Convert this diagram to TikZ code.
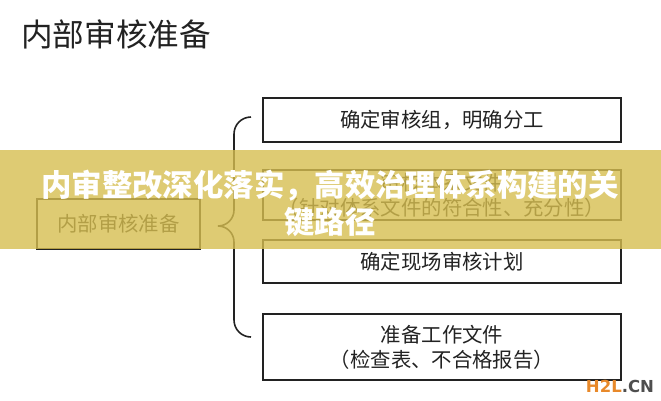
\documentclass[tikz,border=0pt]{standalone}
\usepackage{fontspec}
\setmainfont{Noto Sans CJK SC}
\newfontfamily\markfont{DejaVu Sans}
\usetikzlibrary{positioning}

\definecolor{bandyellow}{RGB}{214,190,80}
\definecolor{markorange}{RGB}{232,137,42}
\definecolor{inkgray}{RGB}{34,34,34}

\begin{document}
\begin{tikzpicture}[x=0.02cm, y=-0.02cm, semithick,
					stepbox/.style={rectangle, draw=inkgray, line width=1.1pt, text=inkgray, align=center,
									minimum width=7.16cm, minimum height=#1, inner sep=0pt,
									font=\fontsize{11.6pt}{14.4pt}\selectfont},
					stepbox/.default=0.88cm,
					brace/.style={draw=inkgray, line width=0.9pt, rounded corners=0pt}]

	\useasboundingbox (0,0) rectangle (661,400);

	\node[text=inkgray, font=\fontsize{18pt}{20pt}\selectfont] (heading) at (116,34) {内部审核准备};

	\node[stepbox=1.0cm, minimum width=3.26cm] (prep) at (118.5,224) {内部审核准备};

	\node[stepbox=0.88cm] (team)  at (442,120)   {确定审核组，明确分工};
	\node[stepbox=1.0cm]  (docs)  at (442,195)   {审核体系文件\\（针对体系文件的符合性、充分性）};
	\node[stepbox=0.86cm] (plan)  at (442,261.5) {确定现场审核计划};
	\node[stepbox=1.32cm] (files) at (442,347)   {准备工作文件\\（检查表、不合格报告）};

	%Brace from the preparation box to the four steps.
	\coordinate (brace-top) at (251,117);
	\coordinate (brace-tip) at (218,226);
	\coordinate (brace-end) at (251,337);
	\draw[brace] (brace-top) to[out=180,in=90] (234,134) -- (234,210)
				 to[out=-90,in=0] (brace-tip) to[out=0,in=90] (234,242) -- (234,320)
				 to[out=-90,in=180] (brace-end);

	%Banner laid over the middle of the chart.
	\fill[bandyellow, opacity=0.8] (0,150) rectangle (661,249);
	\node[text=white, align=center, font=\fontsize{17.3pt}{21pt}\bfseries\selectfont] (banner) at (330,203)
		{内审整改深化落实，高效治理体系构建的关\\键路径};

	\node[font=\markfont\bfseries\fontsize{9.4pt}{11pt}\selectfont, inner sep=0pt] (mark) at (620,386)
		{\textcolor{markorange}{H2L}\textcolor{inkgray!80}{.CN}};

\end{tikzpicture}
\end{document}
